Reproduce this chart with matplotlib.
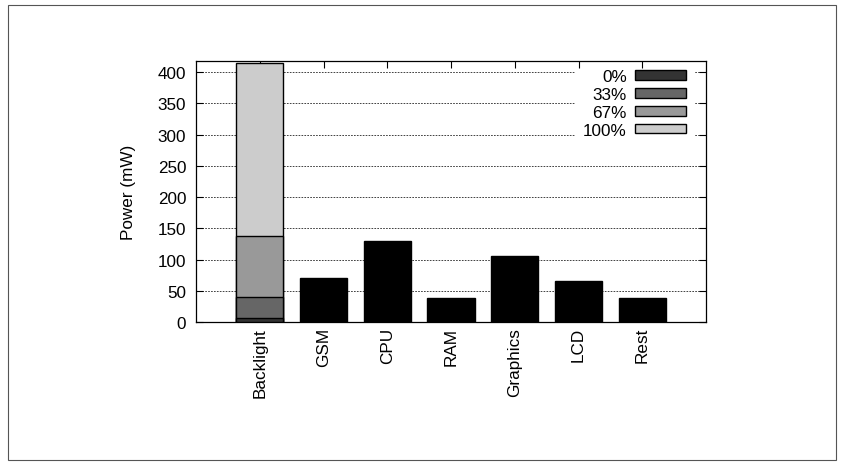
import matplotlib.pyplot as plt
from matplotlib.patches import Rectangle, Patch
import numpy as np

plt.rcParams['font.family'] = ['Liberation Sans', 'DejaVu Sans']

categories = ['Backlight', 'GSM', 'CPU', 'RAM', 'Graphics', 'LCD', 'Rest']
# backlight power at different brightness levels (drawn overlaid, largest behind)
backlight_levels = ['0%', '33%', '67%', '100%']
backlight_power = [7, 40, 138, 414]
backlight_colors = ['#333333', '#666666', '#999999', '#cccccc']
# other components
other_power = [71, 129, 39, 105, 65, 39]
yticks = list(range(0, 401, 50))

fs = 12.3

fig = plt.figure(figsize=(8.43, 4.64), dpi=100)
ax = fig.add_axes([0.2325, 0.3039, 0.605, 0.5625])

x = np.arange(len(categories))
w = 0.74

# backlight bars, from tallest to shortest so all show
for lvl, val, col in sorted(zip(backlight_levels, backlight_power, backlight_colors),
                            key=lambda t: -t[1]):
    ax.bar(x[0], val, w, color=col, edgecolor='black', linewidth=1, zorder=3)

ax.bar(x[1:], other_power, w, color='black', edgecolor='black', linewidth=1, zorder=3)

# dashed grid drawn by hand so the key can sit on top of it
ax.hlines(yticks, -1, 7, colors='#222222', linestyles=(0, (2, 1.5)), linewidth=0.6, zorder=0.5)

ax.set_xlim(-1, 7)
ax.set_ylim(0, 418)
ax.set_yticks(yticks)
ax.set_xticks(x)
ax.set_xticklabels(categories, rotation=90, fontsize=fs)
ax.tick_params(axis='y', labelsize=fs, pad=7)
ax.tick_params(direction='in', top=True, right=True, length=5, width=0.8)
ax.set_axisbelow('line')
ax.set_ylabel('Power (mW)', fontsize=fs, labelpad=16)
for s in ax.spines.values():
    s.set_linewidth(0.9)

handles = [Patch(facecolor=c, edgecolor='black', linewidth=1) for c in backlight_colors]
leg = ax.legend(handles, backlight_levels, loc='upper right', bbox_to_anchor=(0.994, 1.035),
                markerfirst=False, frameon=True, fancybox=False, edgecolor='none',
                framealpha=1, fontsize=fs, handlelength=3.0, handleheight=0.5,
                labelspacing=0.17, handletextpad=0.45, borderpad=0.5)
for t in leg.get_texts():
    t.set_ha('right')
leg.set_zorder(1)

# outer border around the figure
fig.patches.append(Rectangle((8 / 843, 3 / 464), 828 / 843, 455 / 464, transform=fig.transFigure,
                             fill=False, edgecolor='#555555', linewidth=0.8))

fig.savefig('out.png', dpi=100)
